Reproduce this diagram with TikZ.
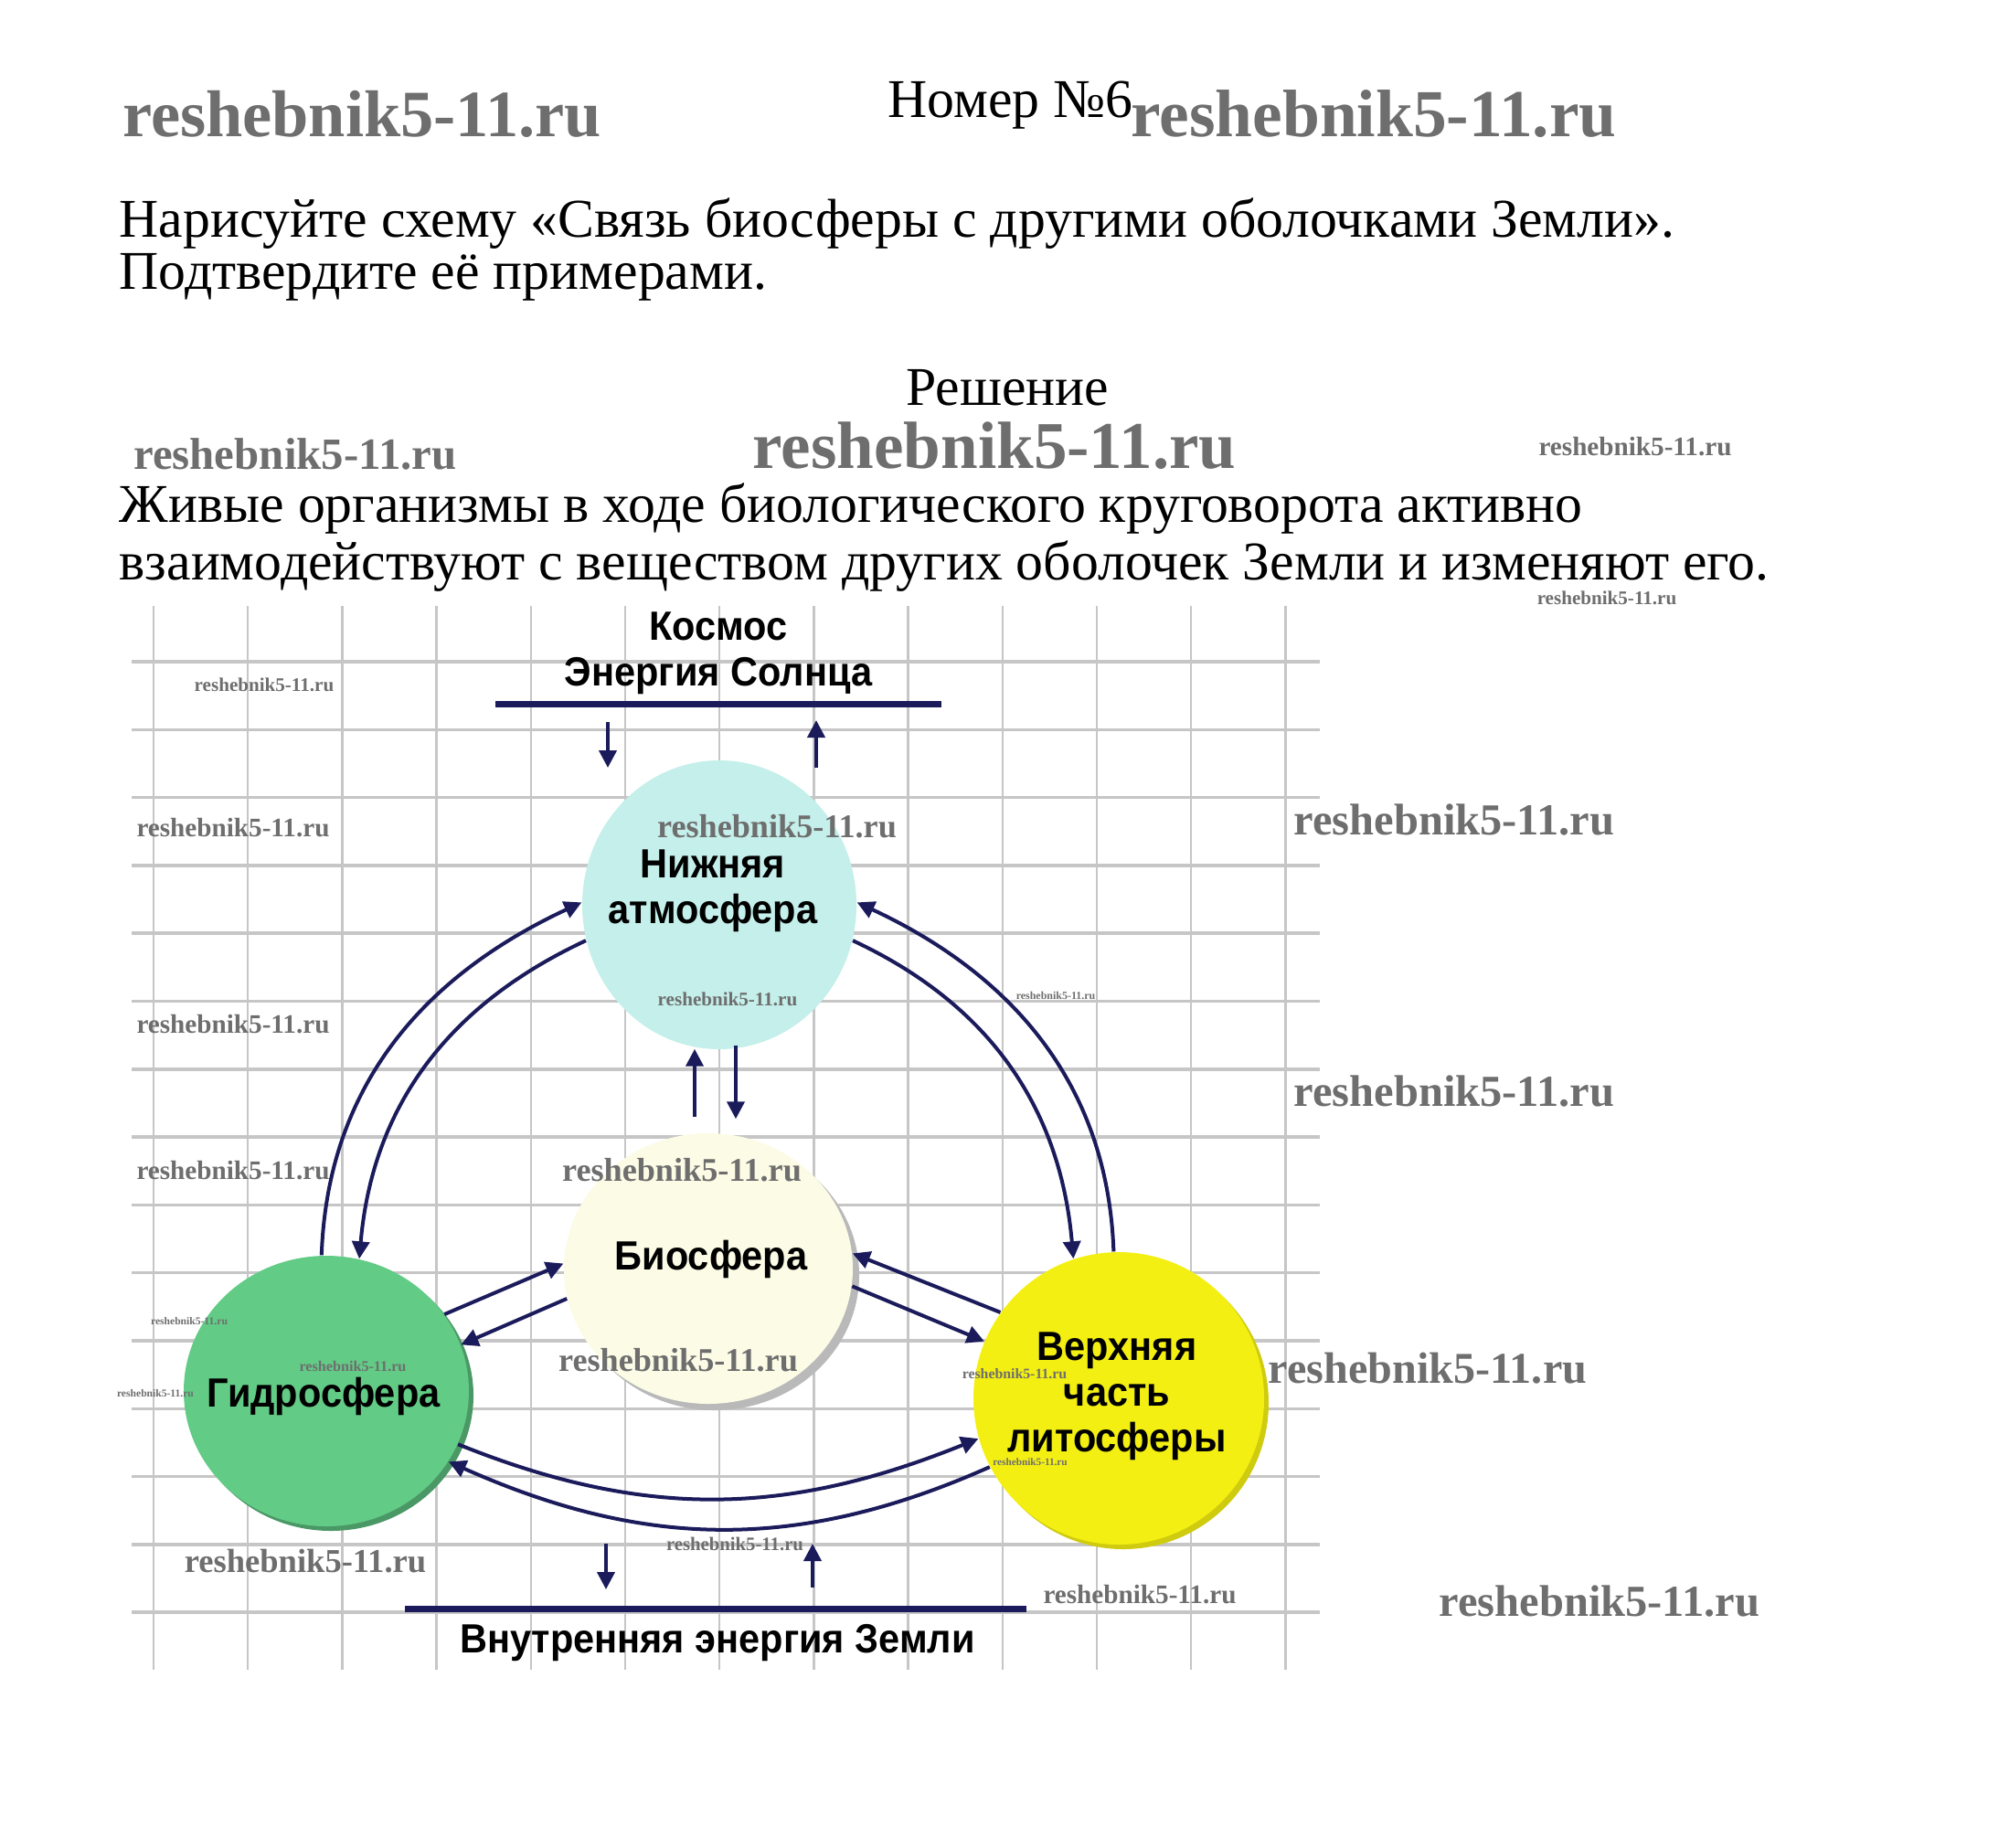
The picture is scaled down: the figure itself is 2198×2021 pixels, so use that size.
\documentclass[tikz,border=0pt]{standalone}
\usepackage{fontspec}
\setmainfont{Liberation Serif}
\newfontfamily\lblfont[FakeStretch=0.93]{Liberation Sans}
\newfontfamily\wmfont{Liberation Serif}
\usepackage{tikz}
\usetikzlibrary{arrows.meta,calc,shapes.geometric}

\definecolor{navy}{HTML}{1B1B5C}
\definecolor{gridgray}{HTML}{C6C6C6}
\definecolor{atmcol}{HTML}{C4EFEA}
\definecolor{biocol}{HTML}{FBFBE6}
\definecolor{hydcol}{HTML}{62CB86}
\definecolor{litcol}{HTML}{F4EF12}
\definecolor{wmgray}{HTML}{6E6E6E}

\begin{document}
\begin{tikzpicture}[x=0.1mm,y=-0.1mm,
  body/.style={anchor=base west,inner sep=0pt,font=\fontsize{17}{20}\selectfont},
  lbl/.style={inner sep=0pt,align=center,font=\lblfont\bfseries\fontsize{12.7}{14.2}\selectfont},
  sphere/.style={ellipse,inner sep=0pt},
  gridv/.style={gridgray,line width=0.25mm},
  gridh/.style={gridgray,line width=0.35mm},
  arr/.style={navy,line width=0.4mm,-{Triangle[length=1.9mm,width=1.9mm]}},
  bar/.style={navy,line width=0.7mm},
  wmark/.style={inner sep=0pt,text=wmgray}]

\useasboundingbox (0,0) rectangle (2198,2021);

% Task
\node[body] (num) at (971,128) {Номер №6};
\node[body] (task1) at (130,259) {Нарисуйте схему «Связь биосферы с другими оболочками Земли».};
\node[body] (task2) at (130,316) {Подтвердите её примерами.};
\node[body,anchor=base] (sol) at (1102,443) {Решение};
\node[body] (ans1) at (130,571) {Живые организмы в ходе биологического круговорота активно};
\node[body] (ans2) at (130,634) {взаимодействуют с веществом других оболочек Земли и изменяют его.};

% Grid
\foreach \i in {0,...,12}
{
\draw[gridv] ({168+103.2*\i},663) -- ({168+103.2*\i},1827);
}
\foreach \j in {0,...,14}
{
\draw[gridh] (144,{724+74.3*\j}) -- (1444,{724+74.3*\j});
}

% Spheres
\node[sphere,fill=hydcol!75!black,minimum width=31.2mm,minimum height=29.6mm] (hydsh) at (362,1527) {};
\node[sphere,fill=litcol!85!black,minimum width=31.8mm,minimum height=32mm] (litsh) at (1229,1535) {};
\node[sphere,fill=gray!55,minimum width=31.6mm,minimum height=29.6mm] (biosh) at (782,1395) {};
\node[sphere,fill=atmcol,minimum width=30mm,minimum height=31.6mm] (atm) at (787,990) {};
\node[sphere,fill=biocol,minimum width=31.6mm,minimum height=29.6mm] (bio) at (775,1388) {};
\node[sphere,fill=hydcol,minimum width=31.2mm,minimum height=29.6mm] (hyd) at (357,1522) {};
\node[sphere,fill=litcol,minimum width=31.8mm,minimum height=32mm] (lit) at (1224,1530) {};

\node[lbl] (atmtxt) at (780,975) {Нижняя\\атмосфера};
\node[lbl] (biotxt) at (778,1378) {Биосфера};
\node[lbl] (hydtxt) at (354,1528) {Гидросфера};
\node[lbl] (littxt) at (1222,1528) {Верхняя\\часть\\литосферы};

% Space and Earth
\node[lbl] (space) at (786,715) {Космос\\Энергия Солнца};
\coordinate (sunL) at (542,770);
\coordinate (sunR) at (1030,770);
\draw[bar] (sunL) -- (sunR);
\draw[arr] ($(sunL)+(123,20)$) -- ++(0,50);
\draw[arr] ($(sunL)+(351,70)$) -- ++(0,-52);

\node[lbl] (earth) at (785,1798) {Внутренняя энергия Земли};
\coordinate (earthL) at (443,1760);
\coordinate (earthR) at (1123,1760);
\draw[bar] (earthL) -- (earthR);
\draw[arr] ($(earthL)+(220,-71)$) -- ++(0,50);
\draw[arr] ($(earthL)+(446,-23)$) -- ++(0,-48);

% Links
\draw[arr] ($(bio.north)+(-15,-17)$) -- ($(atm.south)+(-27,-1)$);
\draw[arr] ($(atm.south)+(18,-5)$) -- ($(bio.north)+(30,-15)$);

\draw[arr] (hyd.92) to[out=88,in=205] (atm.179);
\draw[arr] (atm.195) to[out=205,in=85] (hyd.76);
\draw[arr] (lit.92) to[out=92,in=-25] (atm.1);
\draw[arr] (atm.-15) to[out=-25,in=95] (lit.108);

\draw[arr] (hyd.33) -- (bio.178);
\draw[arr] (bio.192) -- (hyd.19);
\draw[arr] (lit.144) -- (bio.6);
\draw[arr] (bio.-7) -- (lit.157);

\draw[arr] (hyd.-22) to[out=-22,in=202] (lit.196);
\draw[arr] (lit.208) to[out=204,in=-24] (hyd.-30);

% Watermarks
\foreach \s/\x/\y [count=\i] in {20.6/396/125, 20.9/1503/125, 13.9/323/497, 20.8/1088/488,
  8.3/1789/489, 6.0/1758/654, 6.0/289/749, 8.3/255/906, 10.3/850/904, 13.8/1591/897,
  6.0/796/1093, 3.4/1155/1089, 8.3/255/1121, 13.8/1591/1194, 8.3/255/1281, 10.3/746/1280,
  3.3/207/1446, 4.6/386/1495, 3.3/170/1525, 10.3/742/1488, 4.5/1110/1503, 13.7/1562/1497,
  3.2/1127/1600, 10.4/334/1708, 5.9/804/1689, 8.3/1247/1745, 13.8/1750/1752}
{
\node[wmark,font=\wmfont\bfseries\fontsize{\s}{\s}\selectfont] (wm\i) at (\x,\y) {reshebnik5-11.ru};
}

\end{tikzpicture}
\end{document}
